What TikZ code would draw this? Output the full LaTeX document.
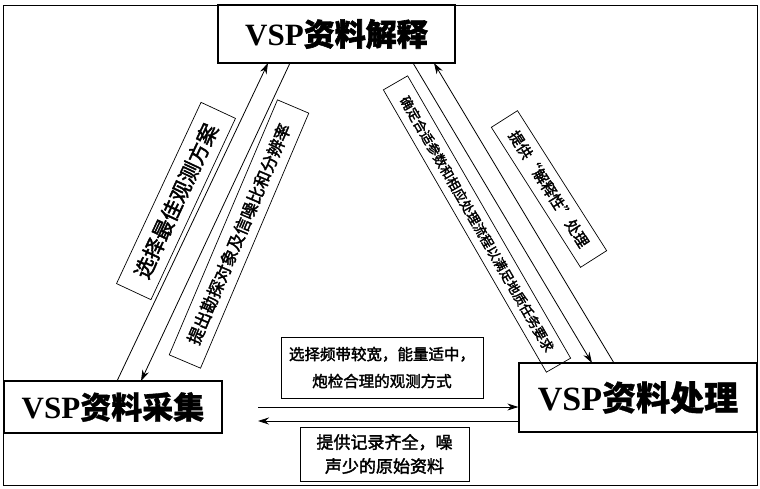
\documentclass[tikz,border=0pt]{standalone}
\usepackage{fontspec}
\setmainfont{Liberation Serif}
\newfontfamily\cjk[FakeBold=1]{Noto Sans CJK SC}
\newfontfamily\cjkb[FakeBold=2]{Noto Sans CJK SC}
\usetikzlibrary{arrows.meta}
\begin{document}
\begin{tikzpicture}[x=1pt,y=-1pt,
  bigbox/.style={draw, line width=1.3pt, inner sep=0pt},
  lab/.style={draw, line width=0.7pt, inner sep=0pt, align=center},
  conn/.style={line width=0.8pt, -{Stealth[length=11pt,width=7pt]}}]
\useasboundingbox (0,0) rectangle (760,488);
\draw[line width=1pt] (3,5) rectangle (757,485);
% main boxes
\node[bigbox, line width=1.8pt, minimum width=237pt, minimum height=58pt] (interp) at (336.5,34)
  {\fontsize{31}{31}\selectfont\bfseries VSP{\cjkb 资料解释}};
\node[bigbox, minimum width=218pt, minimum height=52pt] (acq) at (113,407)
  {\fontsize{31}{31}\selectfont\bfseries VSP{\cjk 资料采集}};
\node[bigbox, minimum width=238pt, minimum height=69pt] (proc) at (638,397.5)
  {\fontsize{34}{34}\selectfont\bfseries VSP{\cjk 资料处理}};
% bottom labels
\node[lab, minimum width=202pt, minimum height=61pt,
  font={\cjkb\fontsize{15.5}{27}\selectfont}] (lab1) at (382,367.5)
  {选择频带较宽，能量适中，\\炮检合理的观测方式};
\node[lab, minimum width=169pt, minimum height=54pt,
  font={\cjkb\fontsize{17}{24}\selectfont}] (lab2) at (384.5,454)
  {提供记录齐全，噪\\声少的原始资料};
% diagonal labels
\node[lab, rotate=65, minimum width=200pt, minimum height=38pt,
  font={\cjkb\fontsize{21}{21}\selectfont}] (labL1) at (176,201)
  {选择最佳观测方案};
\node[lab, rotate=67, minimum width=277pt, minimum height=34pt,
  font={\cjkb\fontsize{17}{17}\selectfont}] (labL2) at (239,234)
  {提出勘探对象及信噪比和分辨率};
\node[lab, rotate=-60, minimum width=326pt, minimum height=28pt,
  font={\cjkb\fontsize{13.3}{13.3}\selectfont}] (labR1) at (477,224)
  {确定合适参数和相应处理流程以满足地质任务要求};
\node[lab, rotate=-57.5, minimum width=166pt, minimum height=31pt,
  font={\cjkb\fontsize{15}{15}\selectfont}] (labR2) at (549,189)
  {提供“解释性”处理};
% connector end points
\coordinate (aL1) at (117,381);
\coordinate (bL1) at (268,63);
\coordinate (aL2) at (290,63);
\coordinate (bL2) at (141,381);
\coordinate (aR1) at (413,63);
\coordinate (bR1) at (592,363);
\coordinate (aR2) at (614,363);
\coordinate (bR2) at (434,63);
\coordinate (h1) at (258,407);
\coordinate (h2) at (258,421);
% connectors
\draw[conn] (aL1) -- (bL1);
\draw[conn] (aL2) -- (bL2);
\draw[conn] (aR1) -- (bR1);
\draw[conn] (aR2) -- (bR2);
\draw[conn] (h1) -- (proc.west |- h1);
\draw[conn] (proc.west |- h2) -- (h2);
\end{tikzpicture}
\end{document}
